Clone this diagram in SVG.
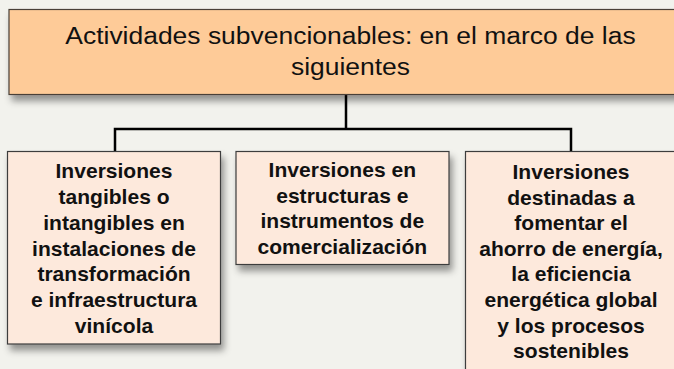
<svg xmlns="http://www.w3.org/2000/svg" width="674" height="369" viewBox="0 0 674 369">
<defs>
<filter id="sh" x="-10%" y="-10%" width="130%" height="140%">
<feDropShadow dx="3" dy="6" stdDeviation="3.5" flood-color="#000" flood-opacity="0.4"/>
</filter>
<style>
.top{fill:#fecb98;stroke:#4a4038;stroke-width:1.2}
.box{fill:#fde9dc;stroke:#3c3c3c;stroke-width:1.2}
.t1{font-family:"Liberation Sans",Arial,sans-serif;font-size:24.5px;fill:#111;text-anchor:middle}
.t2{font-family:"Liberation Sans",Arial,sans-serif;font-size:19.5px;font-weight:bold;fill:#111;text-anchor:middle}
.con{fill:none;stroke:#000;stroke-width:2.5}
</style>
</defs>
<rect width="674" height="369" fill="#f2f2ed"/>
<g id="connectors">
<path class="con" d="M346 94V129M115 151V129H571V151"/>
</g>
<g id="node-top">
<rect class="top" x="9" y="9.5" width="684" height="85" filter="url(#sh)"/>
<g transform="translate(350.5,0) scale(1.08,1)">
<text class="t1" x="0" y="44.5">Actividades subvencionables: en el marco de las</text>
<text class="t1" x="0" y="75.5">siguientes</text>
</g>
</g>
<g id="node-left">
<rect class="box" x="7.5" y="151.5" width="213" height="192.5" filter="url(#sh)"/>
<g transform="translate(114,0) scale(1.08,1)">
<text class="t2" x="0" y="178.5">Inversiones</text>
<text class="t2" x="0" y="204.2">tangibles o</text>
<text class="t2" x="0" y="229.9">intangibles en</text>
<text class="t2" x="0" y="255.6">instalaciones de</text>
<text class="t2" x="0" y="281.3">transformación</text>
<text class="t2" x="0" y="307">e infraestructura</text>
<text class="t2" x="0" y="332.7">vinícola</text>
</g>
</g>
<g id="node-middle">
<rect class="box" x="236" y="151.5" width="213" height="113" filter="url(#sh)"/>
<g transform="translate(342.3,0) scale(1.08,1)">
<text class="t2" x="0" y="177.5">Inversiones en</text>
<text class="t2" x="0" y="203">estructuras e</text>
<text class="t2" x="0" y="228.5">instrumentos de</text>
<text class="t2" x="0" y="254">comercialización</text>
</g>
</g>
<g id="node-right">
<rect class="box" x="465.5" y="151.5" width="213" height="230" filter="url(#sh)"/>
<g transform="translate(571,0) scale(1.08,1)">
<text class="t2" x="0" y="179">Inversiones</text>
<text class="t2" x="0" y="204.6">destinadas a</text>
<text class="t2" x="0" y="230.2">fomentar el</text>
<text class="t2" x="0" y="255.8">ahorro de energía,</text>
<text class="t2" x="0" y="281.4">la eficiencia</text>
<text class="t2" x="0" y="307">energética global</text>
<text class="t2" x="0" y="332.6">y los procesos</text>
<text class="t2" x="0" y="358.2">sostenibles</text>
</g>
</g>
</svg>
